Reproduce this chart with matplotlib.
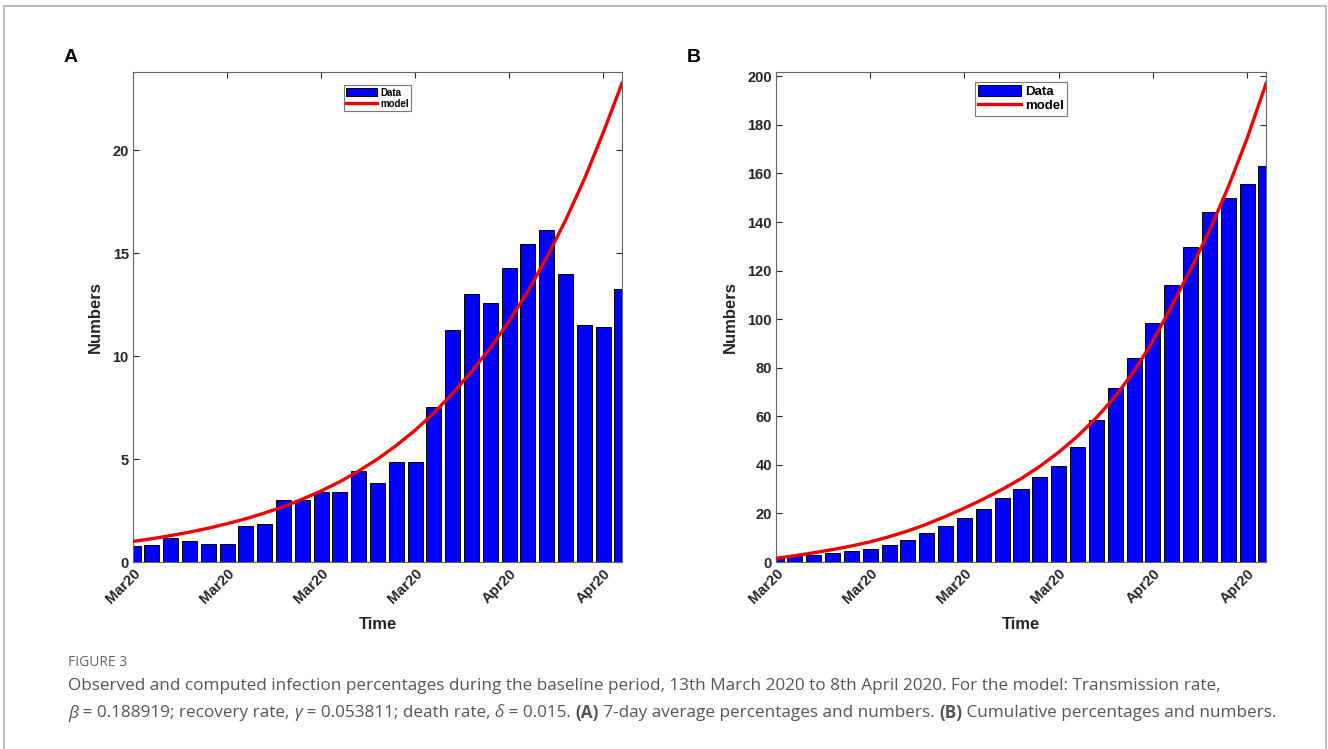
import numpy as np
import pandas as pd
import matplotlib
matplotlib.use("Agg")
import matplotlib.pyplot as plt
from matplotlib.patches import Rectangle

# days from 13 March 2020 to 8 April 2020
dates = pd.date_range("2020-03-13", periods=27, freq="D")
days = np.arange(1, 28)

# panel A: 7-day average
avg_data = [0.76, 0.84, 1.15, 1.00, 0.87, 0.87, 1.73, 1.85, 3.02, 3.02,
            3.42, 3.42, 4.40, 3.85, 4.85, 4.85, 7.55, 11.27, 13.00, 12.58,
            14.27, 15.44, 16.12, 14.00, 11.50, 11.40, 13.24]
avg_model = [1.00, 1.13, 1.28, 1.45, 1.64, 1.86, 2.10, 2.38, 2.69, 3.05,
             3.45, 3.90, 4.42, 5.00, 5.66, 6.40, 7.24, 8.20, 9.25, 10.40,
             11.70, 13.15, 14.80, 16.60, 18.60, 20.85, 23.25]

# panel B: cumulative
cum_data = [2.1, 2.4, 3.0, 3.7, 4.4, 5.5, 7.2, 9.0, 12.0, 14.9,
            18.3, 21.8, 26.2, 30.1, 35.0, 39.7, 47.3, 58.6, 71.6, 84.1,
            98.6, 114.0, 129.9, 144.3, 149.9, 155.6, 162.9]
cum_model = [1.5, 2.6, 3.8, 5.1, 6.6, 8.3, 10.4, 12.8, 15.6, 18.8,
             22.2, 25.9, 29.9, 34.3, 39.4, 45.2, 51.8, 59.4, 68.2, 78.6,
             91.0, 105.5, 120.5, 136.5, 154.5, 174.5, 197.0]

tick_days = [1, 6, 11, 16, 21, 26]
tick_labels = [dates[d - 1].strftime("%b%y") for d in tick_days]

plt.rcParams["font.family"] = ["Liberation Sans", "DejaVu Sans"]
axcol = "#262626"

fig = plt.figure(figsize=(13.28, 7.49), dpi=100)

# page frame
fig.patches.append(Rectangle((0.003, -0.01), 0.9955, 1.002, transform=fig.transFigure,
                             fill=False, edgecolor="#b0b0b0", linewidth=1.2))


def panel(rect, data, model, yticks, ytop, legsize, legtop, letter, letter_x):
    ax = fig.add_axes(rect)
    bars = ax.bar(days, data, width=0.8, color="#0000ff", edgecolor="black",
                  linewidth=0.7, zorder=2)
    line, = ax.plot(days, model, color="#ee0000", linewidth=2.4, zorder=3)
    ax.set_xlim(1, 27)
    ax.set_ylim(0, ytop)
    ax.set_xticks(tick_days)
    ax.set_xticklabels(tick_labels, rotation=45, ha="right", rotation_mode="anchor")
    ax.set_yticks(yticks)
    ax.tick_params(direction="in", top=True, right=True, length=4, width=0.8,
                   colors=axcol, labelsize=10.5, pad=3)
    for lab in ax.get_xticklabels() + ax.get_yticklabels():
        lab.set_fontweight("bold")
    for s in ax.spines.values():
        s.set_color("#666666")
        s.set_linewidth(0.8)
    ax.set_xlabel("Time", fontsize=12, fontweight="bold", color=axcol, labelpad=8)
    ax.set_ylabel("Numbers", fontsize=12, fontweight="bold", color=axcol, labelpad=7)
    leg = ax.legend([bars, line], ["Data", "model"], loc="upper center",
                    bbox_to_anchor=(0.5, legtop),
                    prop={"weight": "bold", "size": legsize}, frameon=True, fancybox=False,
                    handlelength=3.2, handleheight=0.9, borderpad=0.25, labelspacing=0.1,
                    handletextpad=0.3, borderaxespad=0)
    leg.get_frame().set_edgecolor("#555555")
    leg.get_frame().set_linewidth(0.8)
    fig.text(letter_x, 1 - 57 / 749, letter, fontsize=14, fontweight="bold",
             ha="left", va="center")
    return ax


panel([133 / 1328, 187 / 749, 489 / 1328, 490 / 749], avg_data, avg_model,
      [0, 5, 10, 15, 20], 23.8, 7, 0.973, "A", 64 / 1328)
panel([776 / 1328, 187 / 749, 490 / 1328, 490 / 749], cum_data, cum_model,
      list(range(0, 201, 20)), 201.8, 9.5, 0.98, "B", 687 / 1328)

# caption
capcol = "#555555"
capfont = ["Open Sans", "DejaVu Sans"]
fig.text(68 / 1328, 1 - 662 / 749, "FIGURE 3", fontsize=10, color="#666666",
         family=capfont, va="center")
fig.text(68 / 1328, 1 - 686 / 749,
         "Observed and computed infection percentages during the baseline period, "
         "13th March 2020 to 8th April 2020. For the model: Transmission rate,",
         fontsize=12.3, color=capcol, family=capfont, va="center")

pieces = [("β", "normal", "italic"), (" = 0.188919; recovery rate, ", "normal", "normal"),
          ("γ", "normal", "italic"), (" = 0.053811; death rate, ", "normal", "normal"),
          ("δ", "normal", "italic"), (" = 0.015. ", "normal", "normal"),
          ("(A)", "bold", "normal"), (" 7-day average percentages and numbers. ", "normal", "normal"),
          ("(B)", "bold", "normal"), (" Cumulative percentages and numbers.", "normal", "normal")]
renderer = fig.canvas.get_renderer()
xpos = 68
for txt, wt, st in pieces:
    t = fig.text(xpos / 1328, 1 - 713 / 749, txt, fontsize=12.3, color=capcol,
                 family=capfont, fontweight=wt, fontstyle=st, va="center")
    bb = t.get_window_extent(renderer=renderer)
    xpos = bb.x1

fig.savefig("out.png", dpi=100)
